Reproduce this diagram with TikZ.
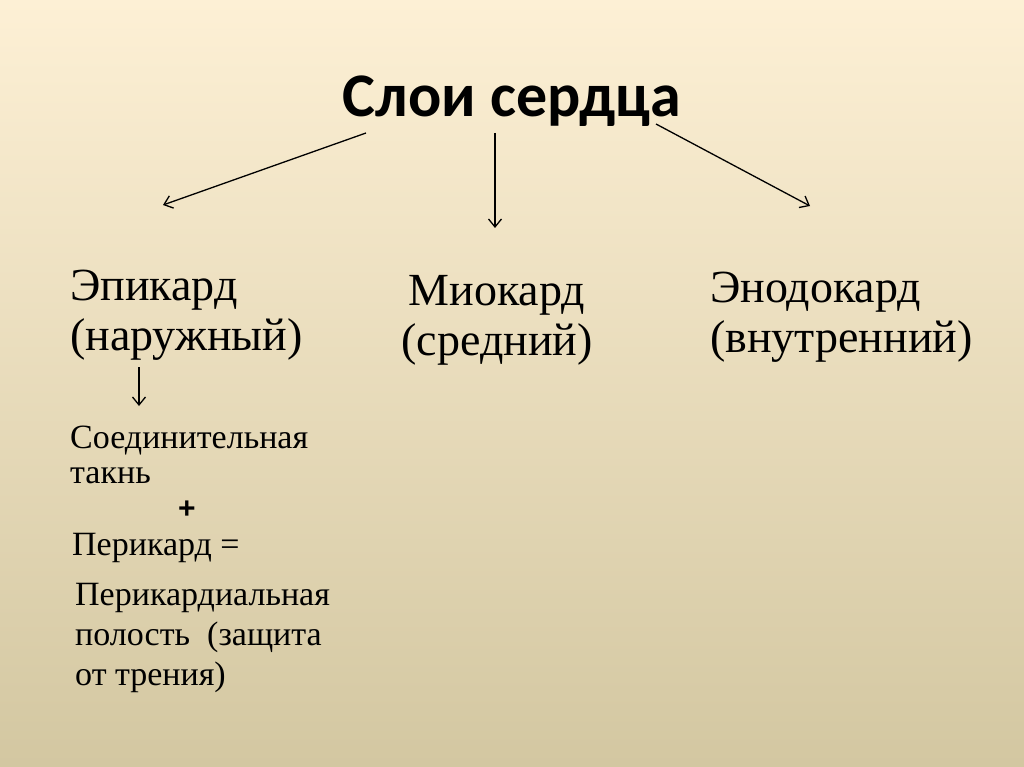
\documentclass[tikz,border=0pt]{standalone}
\usepackage{fontspec}
\setmainfont{Liberation Serif}
\newfontfamily\headfont{Carlito}
\newfontfamily\plusfont{Liberation Sans}
\usetikzlibrary{arrows.meta}
\definecolor{bgtop}{RGB}{253,240,213}
\definecolor{bgbot}{RGB}{211,199,161}
\tikzset{
	layer/.style={anchor=base west, inner sep=0pt, align=left, font=\fontsize{46}{50}\selectfont},
	note/.style={anchor=base west, inner sep=0pt, align=left, font=\fontsize{34}{40}\selectfont},
	link/.style={-{Straight Barb[length=8pt,width=13pt]}, line width=1.3pt}
}

\begin{document}
\begin{tikzpicture}[x=1pt, y=-1pt]
			%%%%% START %%%%%
			
			\shade[top color=bgtop, bottom color=bgbot] (0, 0) rectangle (1024, 767);
			\useasboundingbox (0, 0) rectangle (1024, 767);
			
			\node[anchor=base, inner sep=0pt, font=\fontsize{62}{70}\selectfont\headfont\bfseries] (head) at (512, 117) {Слои сердца};
			
			% base = last line
			\node[layer] (epi) at (70, 350) {Эпикард\\(наружный)};
			\node[layer, anchor=base, align=center] (myo) at (497, 355) {Миокард\\(средний)};
			\node[layer] (endo) at (710, 352) {Энодокард\\(внутренний)};
			
			\node[note, font=\fontsize{34}{35}\selectfont] (tissue) at (70, 483) {Соединительная\\такнь};
			\node[inner sep=0pt, font=\fontsize{30}{30}\selectfont\plusfont\bfseries] (plus) at (187, 510) {+};
			\node[note] (peri) at (72, 555) {Перикард =};
			\node[note] (cavity) at (75, 685) {Перикардиальная\\полость\ \ (защита\\от трения)};
			
			\coordinate (a1) at (366, 133);
			\coordinate (b1) at (163, 205);
			\coordinate (a2) at (495, 133);
			\coordinate (b2) at (495, 228);
			\coordinate (a3) at (656, 124);
			\coordinate (b3) at (810, 206);
			\coordinate (a4) at (139, 367);
			\coordinate (b4) at (139, 406);
			
			\draw[link] (a1) -- (b1);
			\draw[link] (a2) -- (b2);
			\draw[link] (a3) -- (b3);
			\draw[link] (a4) -- (b4);
			
			%%%%% END %%%%%
		\end{tikzpicture}
\end{document}
